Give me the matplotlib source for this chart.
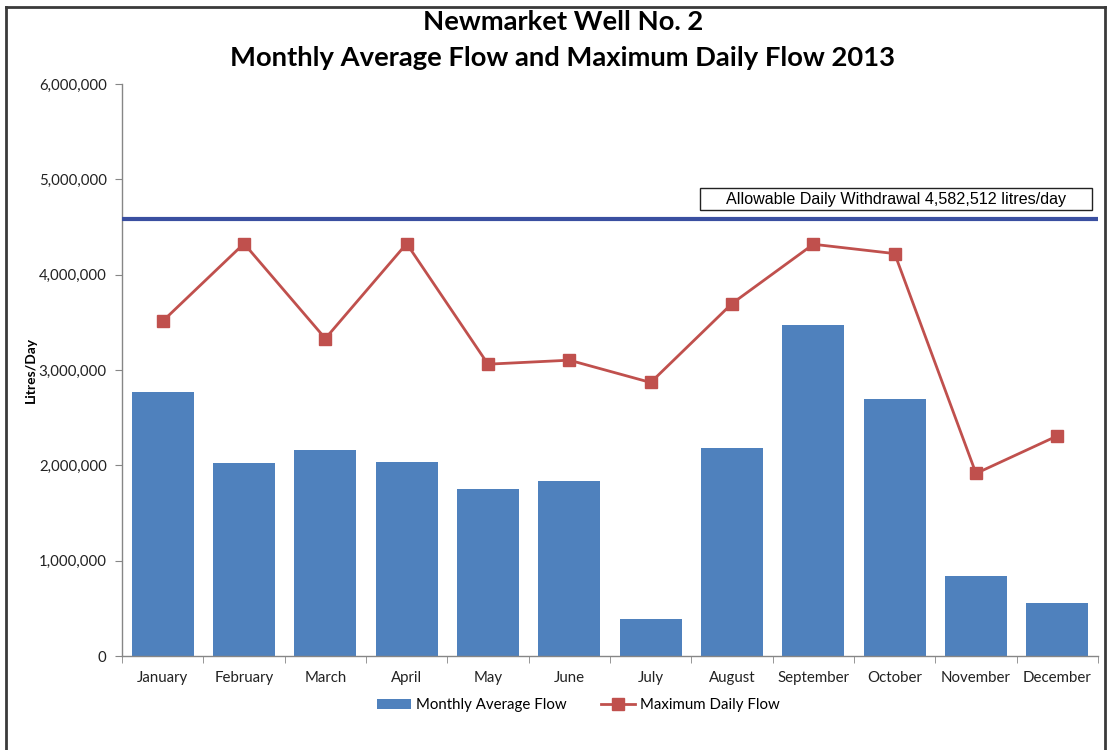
import matplotlib
matplotlib.use("Agg")
import matplotlib.pyplot as plt
from matplotlib.ticker import FuncFormatter, MultipleLocator
from matplotlib.patches import Rectangle, Patch
from matplotlib.lines import Line2D

months = ["January", "February", "March", "April", "May", "June",
          "July", "August", "September", "October", "November", "December"]
monthly_avg = [2770000, 2020000, 2159000, 2037000, 1747000, 1834000,
               390000, 2183000, 3477000, 2701000, 839000, 552000]
max_daily = [3512000, 4326000, 3330000, 4326000, 3061000, 3103000,
             2869000, 3697000, 4319000, 4221000, 1915000, 2309000]
allowable = 4582512

W, H = 1108, 750
fig = plt.figure(figsize=(W / 100, H / 100), dpi=100)
fig.patch.set_facecolor("white")

base_font = ["Lato", "DejaVu Sans"]
plt.rcParams["font.family"] = base_font

ax = fig.add_axes([122 / W, 1 - 656 / H, (1098 - 122) / W, (656 - 84) / H])

x = list(range(len(months)))
ax.bar(x, monthly_avg, width=0.76, color="#4f81bd", zorder=2)
ax.plot(x, max_daily, color="#c0504d", lw=2.0, marker="s", markersize=8,
        markeredgecolor="#c0504d", zorder=3)
ax.axhline(allowable, color="#3a4fa0", lw=3.0, zorder=4)

ax.set_xlim(-0.5, len(months) - 0.5)
ax.set_ylim(0, 6000000)
ax.yaxis.set_major_locator(MultipleLocator(1000000))
ax.yaxis.set_major_formatter(FuncFormatter(lambda v, p: f"{int(v):,}"))
ax.set_xticks(x)
ax.set_xticklabels(months)
ax.set_xticks([i + 0.5 for i in range(-1, len(months))], minor=True)
ax.tick_params(axis="x", which="major", length=0, pad=11, labelsize=10.8, labelcolor="#222222")
ax.tick_params(axis="x", which="minor", length=5, direction="out", color="#868686")
ax.tick_params(axis="y", length=5, direction="out", color="#868686", pad=6,
               labelsize=10.8, labelcolor="#222222")

for side in ("top", "right"):
    ax.spines[side].set_visible(False)
for side in ("left", "bottom"):
    ax.spines[side].set_color("#868686")
    ax.spines[side].set_linewidth(1.0)

# Title and axis label
fig.text(563 / W, 1 - 22 / H, "Newmarket Well No. 2", ha="center", va="center",
         fontsize=19.7, fontweight="bold", color="black")
fig.text(563 / W, 1 - 58 / H, "Monthly Average Flow and Maximum Daily Flow 2013",
         ha="center", va="center", fontsize=19.7, fontweight="bold", color="black")
fig.text(31 / W, 1 - 370 / H, "Litres/Day", rotation=90, ha="center", va="center",
         fontsize=10, fontweight="bold", color="black")

# Allowable withdrawal label box
box_l, box_r, box_t, box_b = 700, 1092, 188, 210
fig.patches.append(Rectangle((box_l / W, 1 - box_b / H), (box_r - box_l) / W,
                             (box_b - box_t) / H, transform=fig.transFigure,
                             facecolor="white", edgecolor="#222222", lw=1.0, zorder=5))
fig.text((box_l + box_r) / 2 / W, 1 - 199.5 / H,
         f"Allowable Daily Withdrawal {allowable:,} litres/day",
         ha="center", va="center", fontsize=11.6, color="black",
         family=["Liberation Sans", "DejaVu Sans"], zorder=6)

# Legend
handles = [Patch(facecolor="#4f81bd", edgecolor="none"),
           Line2D([0], [0], color="#c0504d", lw=2.0, marker="s", markersize=8)]
fig.legend(handles, ["Monthly Average Flow", "Maximum Daily Flow"], ncol=2,
           loc="center", bbox_to_anchor=(578 / W, 1 - 705 / H), frameon=False,
           fontsize=10.8, handlelength=2.3, handletextpad=0.3, columnspacing=2.3)

# Outer frame
frame_kw = dict(transform=fig.transFigure, color="#3a3a3a", lw=2.0)
fig.add_artist(Line2D([6 / W, 6 / W], [0, 1 - 7 / H], **frame_kw))
fig.add_artist(Line2D([6 / W, 1104.5 / W], [1 - 7 / H, 1 - 7 / H], **frame_kw))
fig.add_artist(Line2D([1104.5 / W, 1104.5 / W], [0, 1 - 7 / H], **frame_kw))

fig.savefig("out.png", dpi=100)
